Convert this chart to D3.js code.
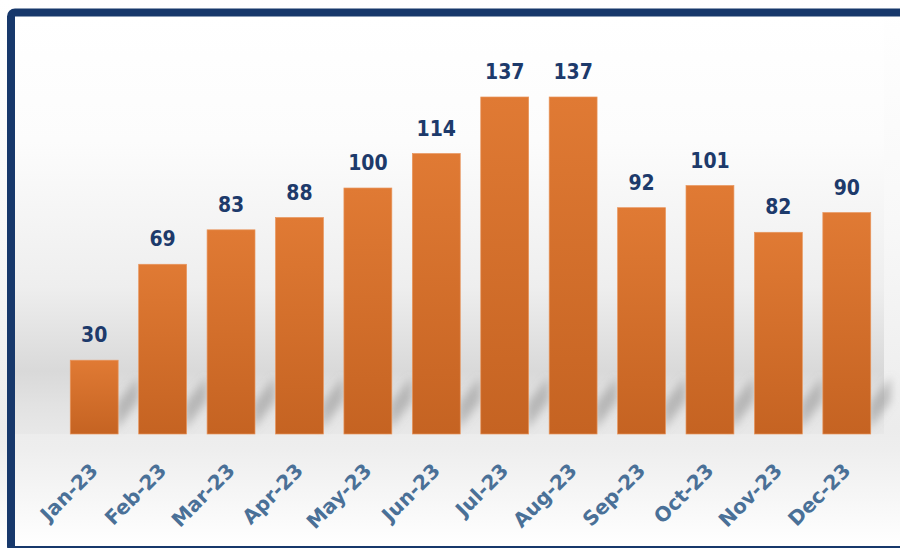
<!DOCTYPE html>
<meta charset="utf-8">
<head>
  <title>Monthly values 2023</title>
</head>
<style>
    body { margin: 0; background: #ffffff; }
    #chart { display: block; }
    .value { font-family: "DejaVu Sans Condensed", "DejaVu Sans", sans-serif; font-weight: bold; font-size: 21px; fill: #1d3a6b; }
    .month { font-family: "DejaVu Sans", Verdana, sans-serif; font-weight: bold; font-size: 20px; fill: #4a7097; }
</style>
<body>
<svg id="chart" width="900" height="548"></svg>
<script src="https://cdnjs.cloudflare.com/ajax/libs/d3/7.8.5/d3.min.js"></script>
<script>
    var months = ["Jan-23","Feb-23","Mar-23","Apr-23","May-23","Jun-23","Jul-23","Aug-23","Sep-23","Oct-23","Nov-23","Dec-23"];
    var values = [30, 69, 83, 88, 100, 114, 137, 137, 92, 101, 82, 90];

    var width = 900, height = 548;
    var svg = d3.select("#chart");
    var defs = svg.append("defs");

    // whole card: white fading to pale grey under the bars then white again
    var bg = defs.append("linearGradient").attr("id", "bgGrad")
        .attr("x1", 0).attr("x2", 0).attr("y1", 0).attr("y2", 1);
    bg.append("stop").attr("offset", "0%").attr("stop-color", "#ffffff");
    bg.append("stop").attr("offset", "40%").attr("stop-color", "#f8f8f8");
    bg.append("stop").attr("offset", "78%").attr("stop-color", "#ececec");
    bg.append("stop").attr("offset", "82%").attr("stop-color", "#eeeeee");
    bg.append("stop").attr("offset", "100%").attr("stop-color", "#ffffff");

    // plot area with the darker band near the floor
    var plotGrad = defs.append("linearGradient").attr("id", "plotGrad")
        .attr("x1", 0).attr("x2", 0).attr("y1", 0).attr("y2", 1);
    plotGrad.append("stop").attr("offset", "0%").attr("stop-color", "#ffffff");
    plotGrad.append("stop").attr("offset", "30%").attr("stop-color", "#fcfcfc");
    plotGrad.append("stop").attr("offset", "65%").attr("stop-color", "#eeeeee");
    plotGrad.append("stop").attr("offset", "85%").attr("stop-color", "#d9d9d9");
    plotGrad.append("stop").attr("offset", "93%").attr("stop-color", "#e2e2e2");
    plotGrad.append("stop").attr("offset", "100%").attr("stop-color", "#e8e8e8");

    var barGrad = defs.append("linearGradient").attr("id", "barGrad")
        .attr("x1", 0).attr("x2", 0).attr("y1", 0).attr("y2", 1);
    barGrad.append("stop").attr("offset", "0%").attr("stop-color", "#e07a34");
    barGrad.append("stop").attr("offset", "100%").attr("stop-color", "#c56322");

    defs.append("filter").attr("id", "blur")
        .attr("x", "-50%").attr("y", "-50%").attr("width", "200%").attr("height", "200%")
        .append("feGaussianBlur").attr("stdDeviation", 4);

    svg.append("rect").attr("x", 0).attr("y", 0).attr("width", width).attr("height", height)
        .attr("fill", "url(#bgGrad)");

    var x = d3.scaleBand()
        .domain(months)
        .range([60, 881])
        .paddingInner(0.3)
        .paddingOuter(0.15);

    var y = d3.scaleLinear()
        .domain([0, 137])
        .range([434, 97]);

    svg.append("rect")
        .attr("x", 15).attr("y", 16)
        .attr("width", 884 - 15).attr("height", y(0) - 16)
        .attr("fill", "url(#plotGrad)");

    // diagonal shadows cast behind the bars
    svg.append("g").attr("filter", "url(#blur)")
        .selectAll("path")
        .data(values)
        .join("path")
        .attr("fill", "#8c8c8c")
        .attr("opacity", 0.5)
        .attr("d", function(d, i) {
            var r = x(months[i]) + x.bandwidth();
            var b = y(0);
            var h = Math.min(y(0) - y(d), 60);
            return "M" + (r - 2) + "," + (b - 4) + "L" + (r - 2) + "," + (b - h * 0.5)
                 + "L" + (r + 20) + "," + (b - h * 0.95) + "L" + (r + 20) + "," + (b - h * 0.55) + "Z";
        });

    svg.append("g")
        .selectAll("rect")
        .data(values)
        .join("rect")
        .attr("x", function(d, i) { return x(months[i]); })
        .attr("y", function(d) { return y(d); })
        .attr("width", x.bandwidth())
        .attr("height", function(d) { return y(0) - y(d); })
        .attr("fill", "url(#barGrad)")
        .attr("stroke", "#e8955c")
        .attr("stroke-width", 0.7);

    svg.append("g")
        .selectAll("text")
        .data(values)
        .join("text")
        .attr("class", "value")
        .attr("text-anchor", "middle")
        .attr("x", function(d, i) { return x(months[i]) + x.bandwidth() / 2; })
        .attr("y", function(d) { return y(d) - 18; })
        .text(function(d) { return d; });

    var xAxis = svg.append("g")
        .attr("transform", "translate(0," + y(0) + ")")
        .call(d3.axisBottom(x).tickSize(0).tickPadding(0));
    xAxis.select(".domain").remove();
    xAxis.selectAll("text")
        .attr("class", "month")
        .attr("fill", null)
        .attr("font-size", null)
        .attr("font-family", null)
        .attr("text-anchor", "end")
        .attr("dy", 0)
        .attr("y", 0)
        .attr("transform", "translate(5,38) rotate(-45)");

    // frame
    svg.append("rect")
        .attr("x", 11).attr("y", 12.5)
        .attr("width", 1000).attr("height", 537.5)
        .attr("rx", 4)
        .attr("fill", "none")
        .attr("stroke", "#17386b")
        .attr("stroke-width", 8);
</script>
</body>
